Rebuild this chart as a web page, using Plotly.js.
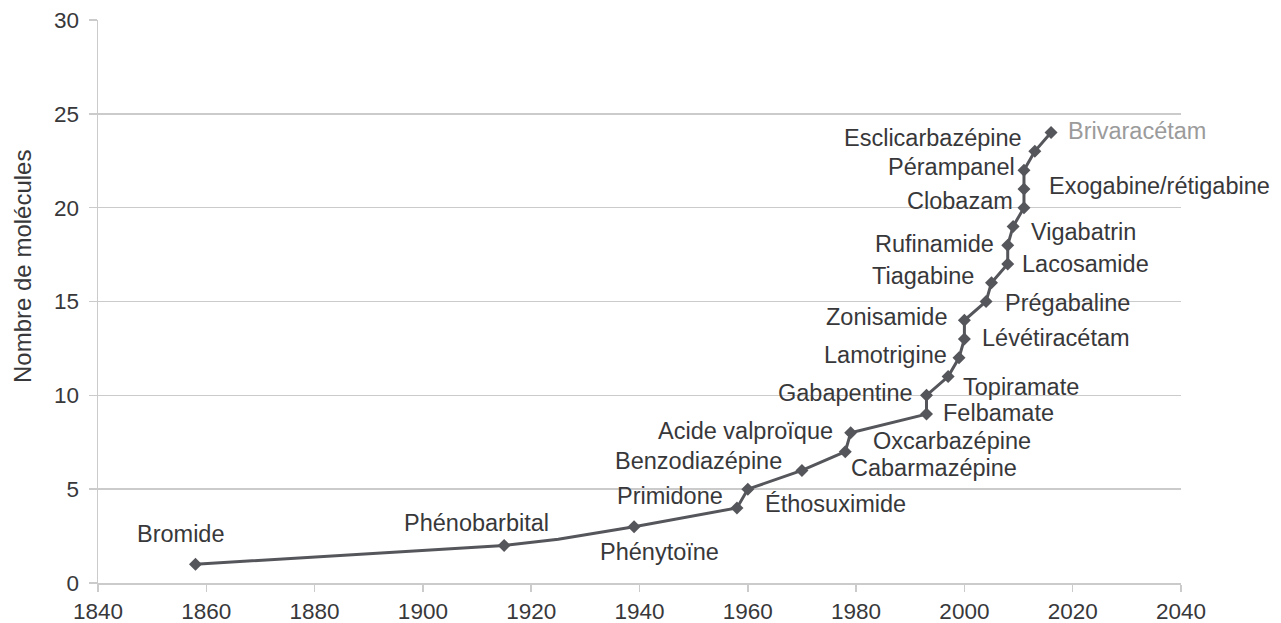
<!DOCTYPE html>
<html>
<head>
<meta charset="utf-8">
<script src="https://cdn.plot.ly/plotly-3.0.1.min.js"></script>
<style>
  html, body { margin: 0; padding: 0; background: #ffffff; }
  #chart { width: 1281px; height: 623px; }
</style>
</head>
<body>
<div id="chart"></div>
<script>
// ---- Data ----
// Vertices of the cumulative line (year, number of molecules)
const lineYears  = [1858, 1915, 1925, 1939, 1958, 1960, 1970, 1978, 1979, 1993, 1993, 1997, 1999, 2000, 2000, 2004, 2005, 2008, 2008, 2009, 2011, 2011, 2011, 2013, 2016];
const lineCounts = [1, 2, 2.33, 3, 4, 5, 6, 7, 8, 9, 10, 11, 12, 13, 14, 15, 16, 17, 18, 19, 20, 21, 22, 23, 24];

// Marked points (diamonds)
const pointYears  = [1858, 1915, 1939, 1958, 1960, 1970, 1978, 1979, 1993, 1993, 1997, 1999, 2000, 2000, 2004, 2005, 2008, 2008, 2009, 2011, 2011, 2011, 2013, 2016];
const pointCounts = [1, 2, 3, 4, 5, 6, 7, 8, 9, 10, 11, 12, 13, 14, 15, 16, 17, 18, 19, 20, 21, 22, 23, 24];

// Molecule names and the marked point each one labels
const drugNames = ["Bromide", "Phénobarbital", "Phénytoïne", "Primidone", "Éthosuximide", "Benzodiazépine",
  "Cabarmazépine", "Acide valproïque", "Oxcarbazépine", "Felbamate", "Gabapentine", "Topiramate",
  "Lamotrigine", "Lévétiracétam", "Zonisamide", "Prégabaline", "Tiagabine", "Lacosamide",
  "Rufinamide", "Vigabatrin", "Clobazam", "Exogabine/rétigabine", "Pérampanel", "Esclicarbazépine", "Brivaracétam"];
const drugPoint = [0, 1, 2, 3, 4, 5, 6, 7, 7, 8, 9, 10, 11, 12, 13, 14, 15, 16, 17, 18, 19, 20, 21, 22, 23];

// Axis ticks
const xTicks = [1840, 1860, 1880, 1900, 1920, 1940, 1960, 1980, 2000, 2020, 2040];
const yTicks = [0, 5, 10, 15, 20, 25, 30];
const yTitle = "Nombre de molécules";

// ---- Styles / label placement (pixels, relative to labelled point) ----
const placement = [
  {a: "right", dx: 32, dy: 30},   // Bromide
  {a: "right", dx: 47, dy: 22},   // Phénobarbital
  {a: "center", dx: 25, dy: -25}, // Phénytoïne
  {a: "right", dx: -12, dy: 12},  // Primidone
  {a: "left", dx: 15, dy: -15},   // Éthosuximide
  {a: "right", dx: -18, dy: 9},   // Benzodiazépine
  {a: "left", dx: 4, dy: -16},    // Cabarmazépine
  {a: "right", dx: -16, dy: 2},   // Acide valproïque
  {a: "left", dx: 20, dy: -8},    // Oxcarbazépine
  {a: "left", dx: 15, dy: 1},     // Felbamate
  {a: "right", dx: -11, dy: 2},   // Gabapentine
  {a: "left", dx: 13, dy: -10},   // Topiramate
  {a: "right", dx: -10, dy: 3},   // Lamotrigine
  {a: "left", dx: 16, dy: 1},     // Lévétiracétam
  {a: "right", dx: -15, dy: 3},   // Zonisamide
  {a: "left", dx: 17, dy: -1},    // Prégabaline
  {a: "right", dx: -15, dy: 7},   // Tiagabine
  {a: "left", dx: 12, dy: 0},     // Lacosamide
  {a: "right", dx: -12, dy: 1},   // Rufinamide
  {a: "left", dx: 16, dy: -6},    // Vigabatrin
  {a: "right", dx: -9, dy: 7},    // Clobazam
  {a: "left", dx: 23, dy: 3},     // Exogabine/rétigabine
  {a: "right", dx: -7, dy: 3},    // Pérampanel
  {a: "right", dx: -11, dy: 13},  // Esclicarbazépine
  {a: "left", dx: 15, dy: 2}      // Brivaracétam
];
const textColor = "#38383a";
const lightText = "#9b9b9b";
const lineColor = "#55565b";
const gridColor = "#cbcbcb";
const fontFamily = "'Liberation Sans', Arial, Helvetica, sans-serif";

const traces = [
  {
    x: lineYears, y: lineCounts, type: "scatter", mode: "lines",
    line: {color: lineColor, width: 3}, hoverinfo: "skip", showlegend: false
  },
  {
    x: pointYears, y: pointCounts, type: "scatter", mode: "markers",
    marker: {symbol: "diamond", size: 10, color: lineColor}, showlegend: false
  }
];

const annotations = drugNames.map((name, i) => {
  const p = drugPoint[i];
  const pl = placement[i];
  return {
    x: pointYears[p], y: pointCounts[p], xref: "x", yref: "y",
    text: name, showarrow: false,
    xanchor: pl.a, yanchor: "middle",
    xshift: pl.dx, yshift: pl.dy,
    font: {family: fontFamily, size: 23.5, color: name === "Brivaracétam" ? lightText : textColor}
  };
});

// y-axis title drawn as a rotated annotation (positioned as in the reference)
annotations.push({
  xref: "paper", yref: "paper", x: -0.0702, y: 0.563,
  xanchor: "center", yanchor: "middle", textangle: -90,
  text: yTitle, showarrow: false,
  font: {family: fontFamily, size: 24, color: textColor}
});

const layout = {
  width: 1281, height: 623,
  margin: {l: 98, r: 100, t: 20, b: 40},
  paper_bgcolor: "#ffffff", plot_bgcolor: "#ffffff",
  font: {family: fontFamily, color: textColor},
  xaxis: {
    range: [1840, 2040], tickvals: xTicks, ticktext: xTicks.map(String),
    showgrid: false, zeroline: false, showline: true,
    linecolor: gridColor, linewidth: 1.5,
    ticks: "outside", ticklen: 7, tickwidth: 1.5, tickcolor: gridColor,
    tickfont: {family: fontFamily, size: 22.5, color: textColor}
  },
  yaxis: {
    range: [0, 30], tickvals: yTicks, ticktext: yTicks.map(String),
    showgrid: true, gridcolor: gridColor, gridwidth: 1.5,
    zeroline: false, showline: true, linecolor: gridColor, linewidth: 1.5,
    ticks: "outside", ticklen: 8, tickwidth: 1.5, tickcolor: gridColor,
    ticklabelstandoff: 5,
    tickfont: {family: fontFamily, size: 22.5, color: textColor}
  },
  annotations: annotations
};

Plotly.newPlot("chart", traces, layout, {staticPlot: true, displayModeBar: false});
</script>
</body>
</html>
